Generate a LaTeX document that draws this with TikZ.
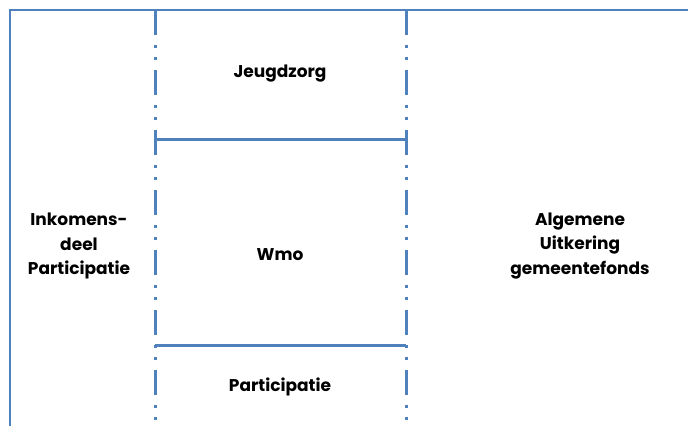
\documentclass[tikz,border=0pt]{standalone}
\usepackage{fontspec}
\setmainfont{Poppins}
\definecolor{lineblue}{HTML}{4F81BD}
\begin{document}
\begin{tikzpicture}[x=1pt,y=-1pt,
  frameline/.style={draw=lineblue,line width=2pt},
  solidline/.style={draw=lineblue,line width=3pt},
  dashdot/.style={draw=lineblue,line width=3pt,dash pattern=on 25pt off 9.5pt on 3pt off 9pt on 3pt off 10.5pt},
  lbl/.style={font=\bfseries\fontsize{17}{24.5}\selectfont,align=center,text=black}]
\useasboundingbox (0,0) rectangle (688,426);
\draw[frameline] (10,426) -- (10,10) -- (688,10);
\draw[dashdot] (155,10) -- (155,426);
\draw[dashdot] (406,10) -- (406,426);
\draw[solidline] (155,139) -- (406,139);
\draw[solidline] (155,345) -- (406,345);
\node[lbl] (jz) at (280,74) {Jeugdzorg};
\node[lbl] (wmo) at (280,255) {Wmo};
\node[lbl] (part) at (280,387) {Participatie};
\node[lbl] (ink) at (79,246) {Inkomens-\\deel\\Participatie};
\node[lbl] (au) at (580,246) {Algemene\\Uitkering\\gemeentefonds};
\end{tikzpicture}
\end{document}
